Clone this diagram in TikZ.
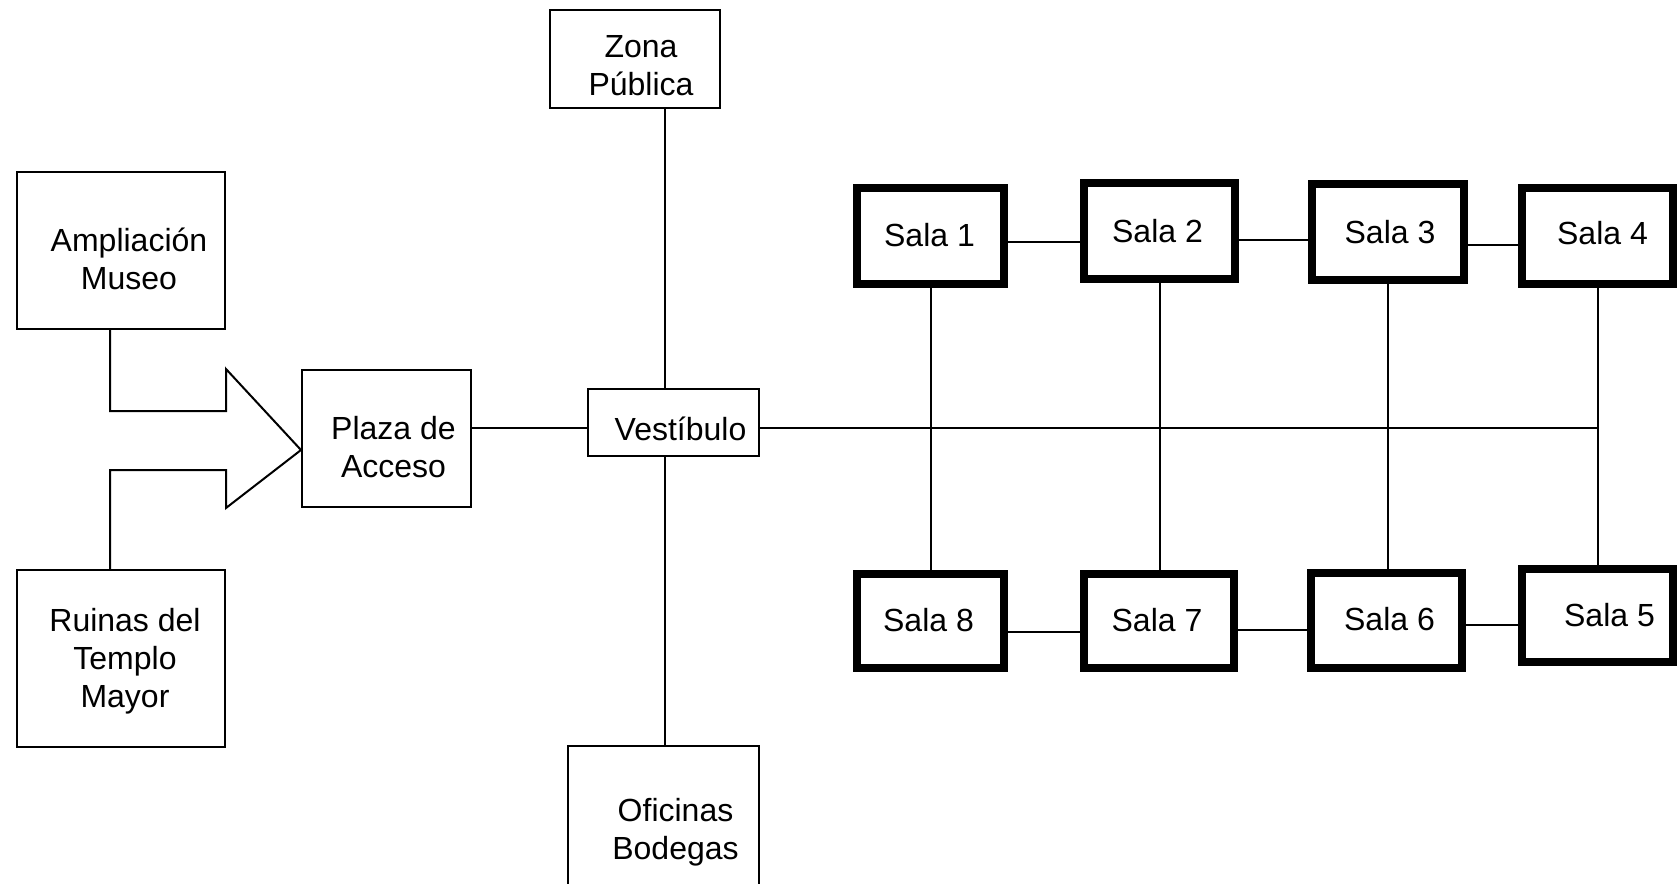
\documentclass[tikz,border=0pt]{standalone}
\usepackage{fontspec}
\setmainfont{Liberation Sans}
\begin{document}
\begin{tikzpicture}[x=1pt,y=-1pt,
  thinbox/.style={draw, line width=2pt, inner sep=0pt},
  salabox/.style={thinbox, line width=8pt, minimum height=96pt},
  txt/.style={align=center, inner sep=0pt, font=\fontsize{32}{38}\selectfont},
  conn/.style={line width=2pt}]
\clip (0,0) rectangle (1680,883);
\fill[white] (0,0) rectangle (1680,883);
% left boxes
\node[thinbox, minimum width=208pt, minimum height=157pt] (amp) at (121,250.5) {};
\node[txt] (amp-t) at ([shift={(8,8)}]amp.center) {Ampliación\\Museo};
\node[thinbox, minimum width=208pt, minimum height=177pt] (ruin) at (121,658.5) {};
\node[txt] (ruin-t) at ([shift={(4,3)}]ruin.center) {Ruinas del\\Templo\\Mayor};
\node[thinbox, minimum width=169pt, minimum height=137pt] (plaza) at (386.5,438.5) {};
\node[txt] (plaza-t) at ([shift={(7,9)}]plaza.center) {Plaza de\\Acceso};
\node[thinbox, minimum width=171pt, minimum height=67pt] (vest) at (673.5,422.5) {};
\node[txt] (vest-t) at ([shift={(7,6)}]vest.center) {Vestíbulo};
\node[thinbox, minimum width=170pt, minimum height=98pt] (zona) at (635,59) {};
\node[txt] (zona-t) at ([shift={(6,7)}]zona.center) {Zona\\Pública};
\node[thinbox, minimum width=191pt, minimum height=164pt] (ofic) at (663.5,828) {};
\node[txt] (ofic-t) at ([shift={(12,4)}]ofic.center) {Oficinas\\Bodegas};
% salas
\node[salabox, minimum width=147pt] (s1) at (930.5,236) {};
\node[txt] (s1-t) at ([shift={(-1,-1)}]s1.center) {Sala 1};
\node[salabox, minimum width=151pt] (s2) at (1159.5,231) {};
\node[txt] (s2-t) at ([shift={(-2,0)}]s2.center) {Sala 2};
\node[salabox, minimum width=152pt] (s3) at (1388,232) {};
\node[txt] (s3-t) at ([shift={(2,0)}]s3.center) {Sala 3};
\node[salabox, minimum width=151pt] (s4) at (1597.5,236) {};
\node[txt] (s4-t) at ([shift={(5,-3)}]s4.center) {Sala 4};
\node[salabox, minimum width=147pt, minimum height=94pt] (s8) at (930.5,621) {};
\node[txt] (s8-t) at ([shift={(-2,-1)}]s8.center) {Sala 8};
\node[salabox, minimum width=150pt, minimum height=94pt] (s7) at (1159,621) {};
\node[txt] (s7-t) at ([shift={(-2,-1)}]s7.center) {Sala 7};
\node[salabox, minimum width=151pt, minimum height=95pt] (s6) at (1386.5,620.5) {};
\node[txt] (s6-t) at ([shift={(3,-1)}]s6.center) {Sala 6};
\node[salabox, minimum width=151pt, minimum height=93pt] (s5) at (1597.5,615.5) {};
\node[txt] (s5-t) at ([shift={(12,0)}]s5.center) {Sala 5};
% arrow
\path (amp.south) ++(-11,0) coordinate (a0);
\path (ruin.north) ++(-11,0) coordinate (r0);
\path (plaza.west) ++(0,11.5) coordinate (tip);
\draw[conn, line join=miter] (a0) |- (226,411) -- (226,369) -- (tip) -- (226,508) -- (226,470) -| (r0);
% main axis
\coordinate (hy) at (0,428);
\draw[conn] (plaza.east |- hy) -- (vest.west |- hy);
\draw[conn] (vest.east |- hy) -- (s4.south |- hy);
\path (zona.south) ++(30,0) coordinate (z0);
\draw[conn] (z0) -- (z0 |- vest.north);
\draw[conn] (z0 |- vest.south) -- (z0 |- ofic.north);
% sala links
\coordinate (ty1) at (0,242);
\coordinate (ty2) at (0,240);
\coordinate (ty3) at (0,245);
\draw[conn] (s1.east |- ty1) -- (s2.west |- ty1);
\draw[conn] (s2.east |- ty2) -- (s3.west |- ty2);
\draw[conn] (s3.east |- ty3) -- (s4.west |- ty3);
\coordinate (by1) at (0,632);
\coordinate (by2) at (0,630);
\coordinate (by3) at (0,625);
\draw[conn] (s8.east |- by1) -- (s7.west |- by1);
\draw[conn] (s7.east |- by2) -- (s6.west |- by2);
\draw[conn] (s6.east |- by3) -- (s5.west |- by3);
\draw[conn] (s1.south) -- (s1.south |- s8.north);
\draw[conn] (s2.south) -- (s2.south |- s7.north);
\draw[conn] (s3.south) -- (s3.south |- s6.north);
\draw[conn] (s4.south) -- (s4.south |- s5.north);
\end{tikzpicture}
\end{document}
